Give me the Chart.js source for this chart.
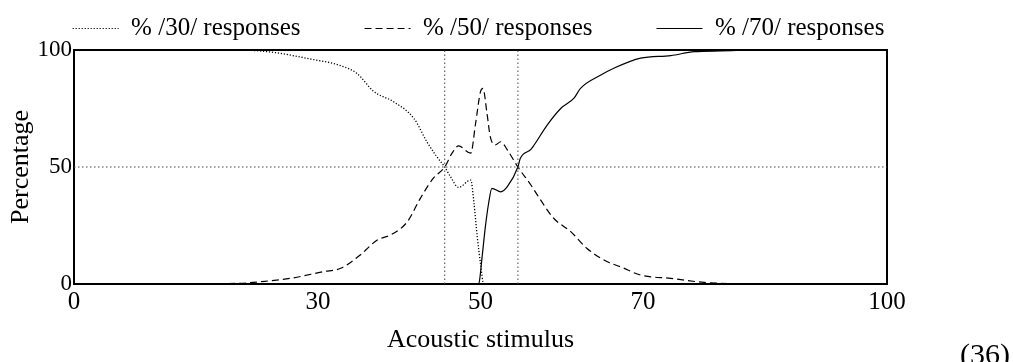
<!DOCTYPE html>
<html>
<head>
<meta charset="utf-8">
<script src="https://cdn.jsdelivr.net/npm/chart.js@4.4.1/dist/chart.umd.min.js"></script>
<style>
  html, body { margin: 0; padding: 0; background: #fff; overflow: hidden; }
  #wrap { position: relative; width: 1013px; height: 362px; }
  #eqno {
    position: absolute; left: 960px; top: 339px;
    font: 30px/30px "Liberation Serif", "Times New Roman", serif; color: #000;
  }
</style>
</head>
<body>
<div id="wrap">
  <canvas id="chart"></canvas>
  <div id="eqno">(36)</div>
</div>
<script>
// acoustic stimulus values (x) and % responses (y)
const stim30 = [0, 10, 20.4, 24.5, 28.7, 32.8, 34.8, 36.9, 39.3, 41.8, 43.4, 44.5, 45.6, 46.3, 47.3, 48.8, 49.2, 49.6, 50.0, 50.4, 60, 80, 100];
const pct30  = [100, 100, 100, 99, 96.4, 93.3, 90, 82.2, 77.9, 70.8, 60.8, 55, 50, 45.9, 41.3, 44.4, 34.5, 20.2, 8.8, 0, 0, 0, 0];

const stim50 = [0, 10, 20.4, 23, 26.6, 30.7, 32.8, 35.2, 37.3, 38.9, 41.0, 42.6, 44.2, 45.6, 46.5, 47.3, 48.8, 49.4, 50.0, 50.3, 50.8, 51.2, 51.8, 52.5, 53.3, 54.6, 56.2, 57.0, 59.0, 61.1, 63.1, 65.6, 67.2, 69.7, 73.4, 77.5, 85, 100];
const pct50  = [0, 0, 0.3, 1, 2.4, 5.3, 6.7, 12.4, 18.8, 20.9, 26.6, 36.6, 45.2, 50, 55.9, 59, 55.9, 68.7, 82.2, 83.6, 72.9, 63, 59.4, 60.8, 57.3, 50, 42.3, 38, 28.1, 22.4, 15.2, 9.5, 7.4, 3.8, 2.4, 0.7, 0, 0];

const stim70 = [0, 20, 40, 49.6, 49.8, 50.2, 50.6, 51.0, 51.4, 52.5, 53.3, 54.6, 54.9, 56.2, 56.6, 58.2, 59.9, 61.5, 62.3, 64.8, 66.4, 69.7, 73.4, 76.3, 79.6, 84.5, 100];
const pct70  = [0, 0, 0, 0, 0.3, 11.7, 24.5, 34.5, 40.9, 39.4, 41.6, 50, 53.7, 57.5, 59.4, 67.9, 75.1, 79.4, 83.6, 89.3, 92.2, 96.5, 97.6, 99.3, 99.6, 100, 100];

const seriesLabels = ["% /30/ responses", "% /50/ responses", "% /70/ responses"];
const xTicks = [0, 30, 50, 70, 100];
const yTicks = [0, 50, 100];
const crossX = [45.6, 54.6];   // vertical guide lines
const halfY = 50;              // horizontal guide line

const serif = "'Liberation Serif', 'Times New Roman', serif";

function pts(xs, ys) {
  return xs.map((x, i) => ({ x: x, y: ys[i] }));
}

const guide = { borderColor: "#444", borderWidth: 1, borderDash: [1.5, 2.5], pointRadius: 0, tension: 0, fill: false };

const datasets = [
  Object.assign({ label: "g1", data: [{ x: 0, y: halfY }, { x: 100, y: halfY }] }, guide),
  Object.assign({ label: "g2", data: [{ x: crossX[0], y: 0 }, { x: crossX[0], y: 100 }] }, guide),
  Object.assign({ label: "g3", data: [{ x: crossX[1], y: 0 }, { x: crossX[1], y: 100 }] }, guide),
  {
    label: seriesLabels[0], data: pts(stim30, pct30),
    borderColor: "#000", borderWidth: 1.3, borderDash: [1.2, 1.8],
    pointRadius: 0, cubicInterpolationMode: "monotone", fill: false
  },
  {
    label: seriesLabels[1], data: pts(stim50, pct50),
    borderColor: "#000", borderWidth: 1.2, borderDash: [7, 4],
    pointRadius: 0, cubicInterpolationMode: "monotone", fill: false
  },
  {
    label: seriesLabels[2], data: pts(stim70, pct70),
    borderColor: "#000", borderWidth: 1.2,
    pointRadius: 0, cubicInterpolationMode: "monotone", fill: false
  }
];

Chart.defaults.color = "#000";
Chart.defaults.font.family = serif;

new Chart(document.getElementById("chart"), {
  type: "line",
  data: { datasets: datasets },
  options: {
    responsive: true,
    maintainAspectRatio: false,
    devicePixelRatio: 1,
    animation: false,
    layout: { padding: { top: -48, right: 56, bottom: 0, left: 0 } },
    plugins: {
      tooltip: { enabled: false },
      legend: {
        position: "top",
        align: "center",
        maxHeight: 98,
        labels: {
          filter: item => item.datasetIndex >= 3,
          // point style items lose the dash, so put it back from the dataset
          generateLabels: chart => {
            const items = Chart.defaults.plugins.legend.labels.generateLabels(chart);
            items.forEach(it => {
              const ds = chart.data.datasets[it.datasetIndex];
              it.lineDash = ds.borderDash || [];
              it.lineWidth = 1;
            });
            return items;
          },
          usePointStyle: true,
          pointStyle: "line",
          pointStyleWidth: 46,
          padding: 64,
          color: "#000",
          font: { family: serif, size: 25 }
        }
      }
    },
    scales: {
      x: {
        type: "linear", position: "bottom", min: 0, max: 100,
        afterBuildTicks: s => { s.ticks = xTicks.map(v => ({ value: v })); },
        afterFit: s => { s.height = 78; },
        grid: { display: false, drawTicks: false, lineWidth: 2 },
        border: { display: true, color: "#000", width: 2 },
        ticks: { padding: 3, maxRotation: 0, autoSkip: false, font: { family: serif, size: 25 }, color: "#000" },
        title: { display: true, text: "Acoustic stimulus", padding: { top: 0, bottom: 6 }, font: { family: serif, size: 26 }, color: "#000" }
      },
      x2: {
        type: "linear", position: "top", min: 0, max: 100,
        afterFit: s => { s.height = 0; },
        grid: { display: false, drawTicks: false, lineWidth: 2 },
        border: { display: true, color: "#000", width: 2 },
        ticks: { display: false }
      },
      y: {
        type: "linear", position: "left", min: 0, max: 100,
        afterBuildTicks: s => { s.ticks = yTicks.map(v => ({ value: v })); },
        afterFit: s => { s.width = 74; },
        grid: { display: false, drawTicks: false, lineWidth: 2 },
        border: { display: true, color: "#000", width: 2 },
        ticks: { padding: 2, font: { family: serif, size: 23 }, color: "#000" },
        title: { display: true, text: "Percentage", padding: { top: 6, bottom: 0 }, font: { family: serif, size: 26 }, color: "#000" }
      },
      y2: {
        type: "linear", position: "right", min: 0, max: 100,
        afterFit: s => { s.width = 70; },
        grid: { display: false, drawTicks: false, lineWidth: 2 },
        border: { display: true, color: "#000", width: 2 },
        ticks: { display: false }
      }
    }
  }
});
</script>
</body>
</html>
